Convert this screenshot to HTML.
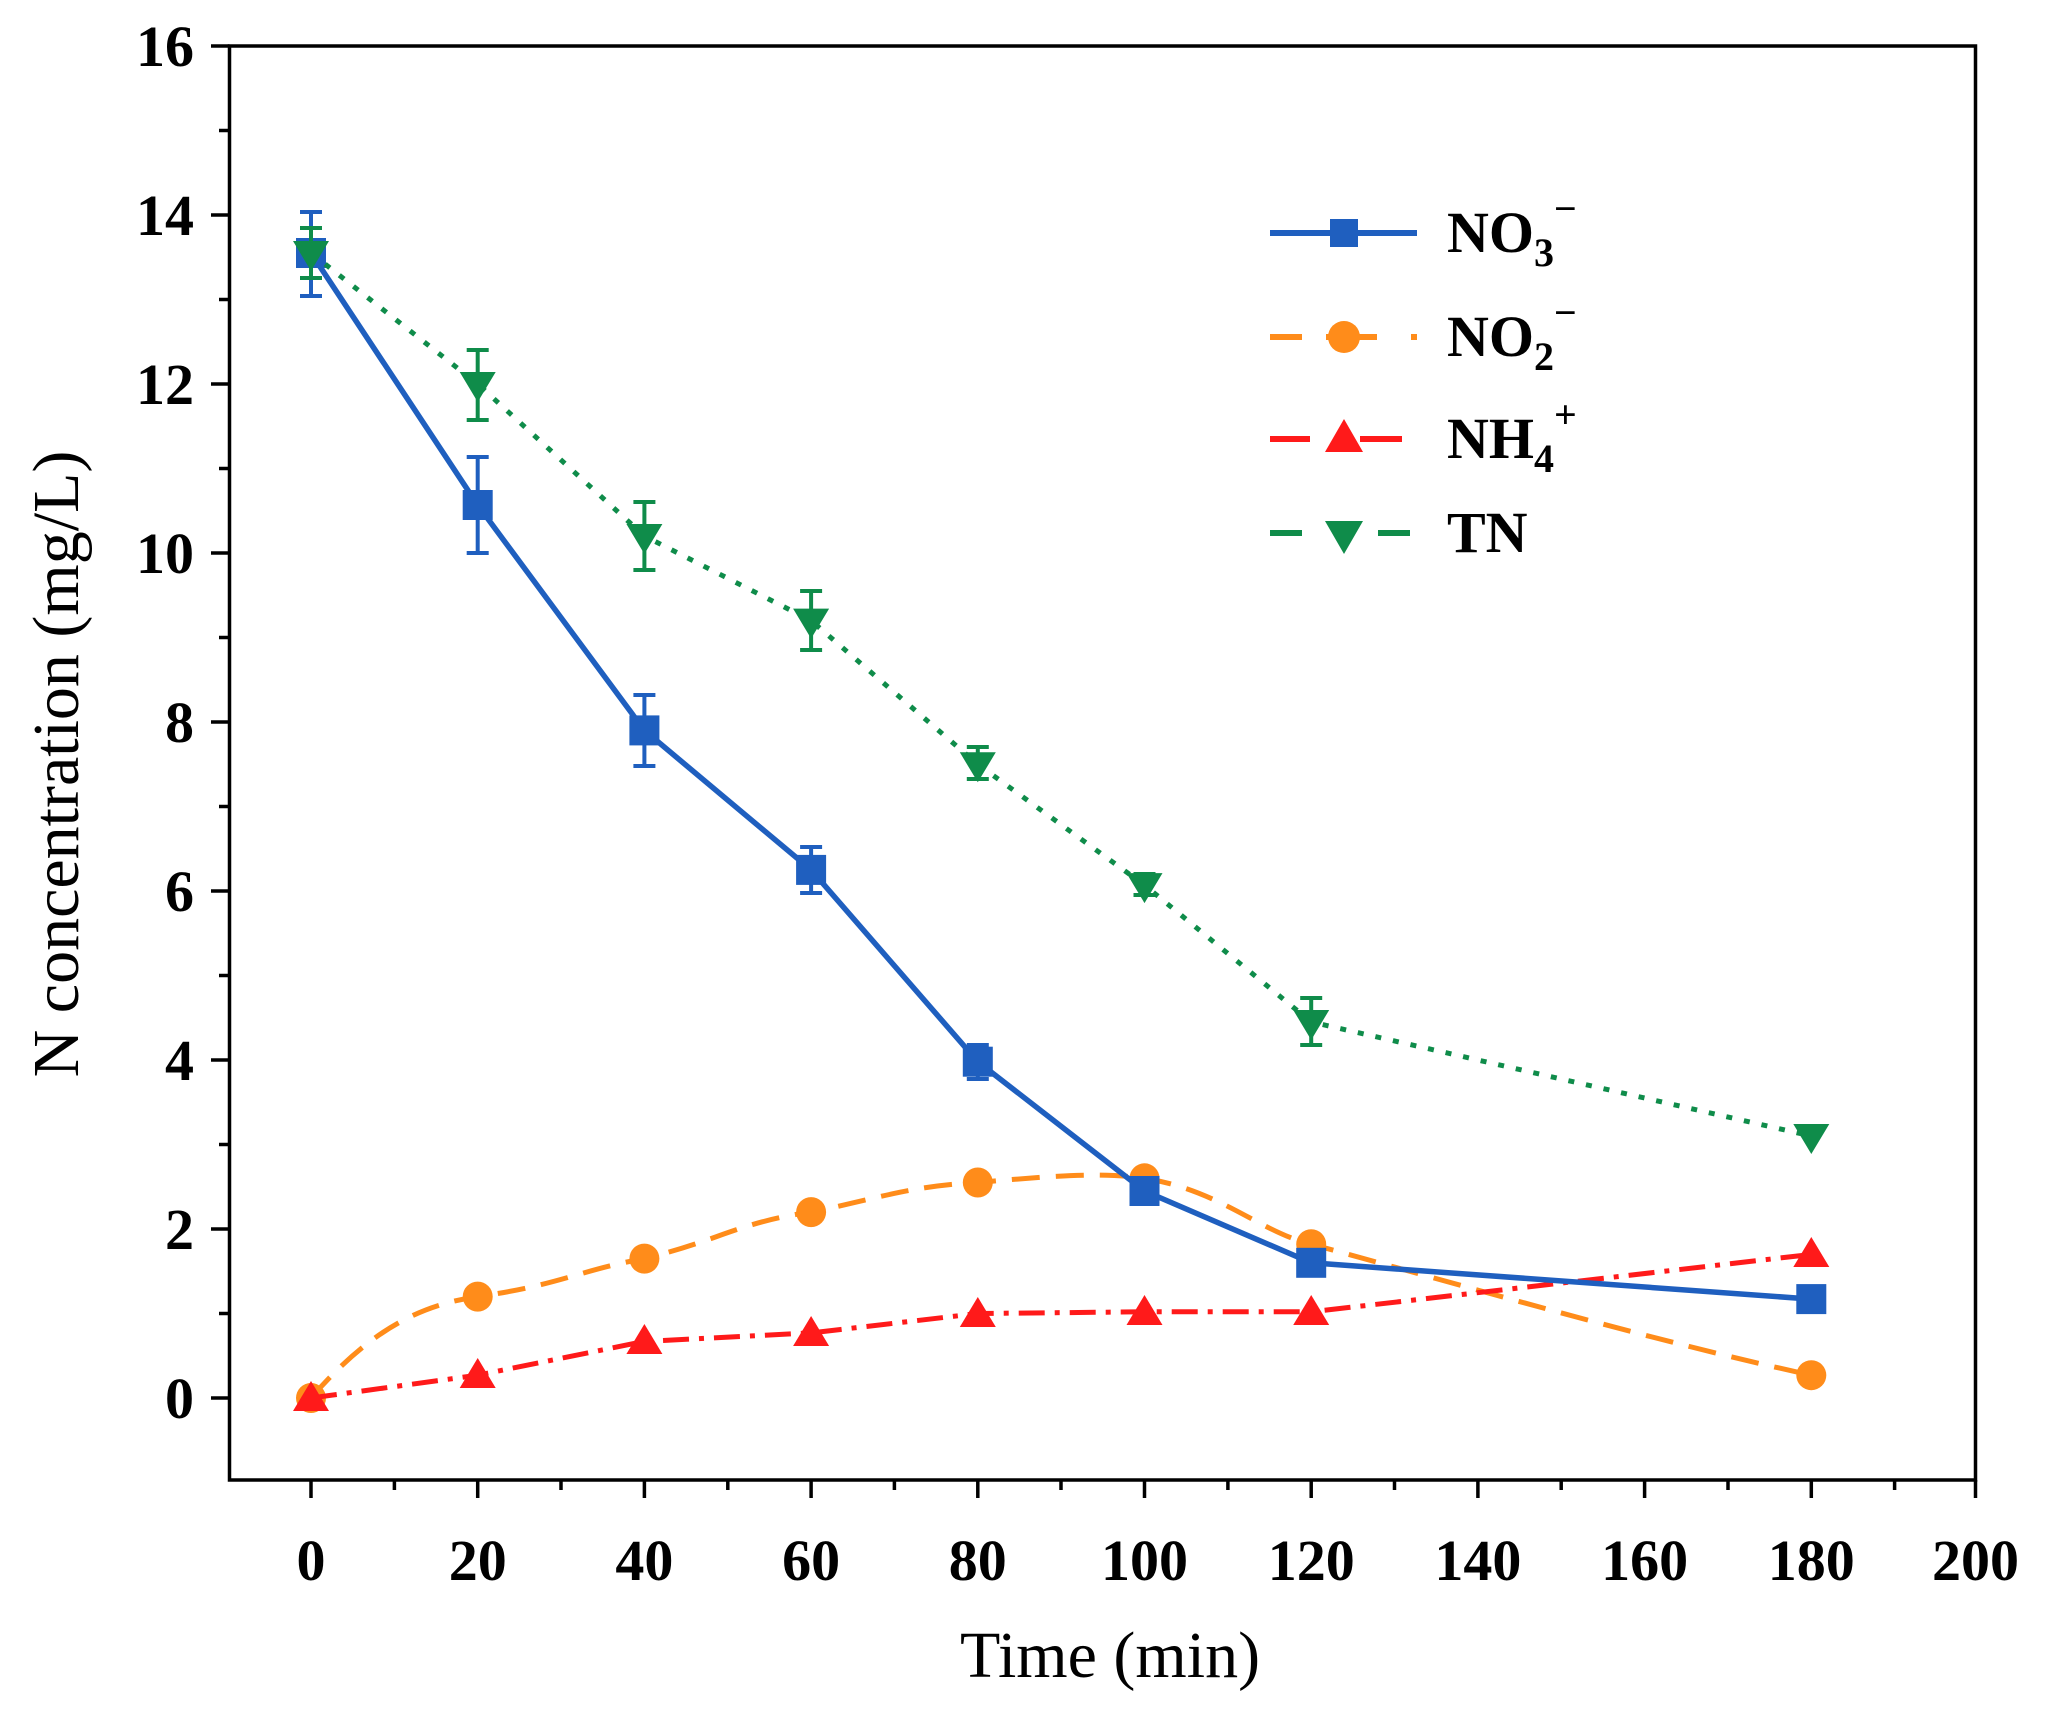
<!DOCTYPE html>
<html><head><meta charset="utf-8"><style>html,body{margin:0;padding:0;background:#fff}svg{display:block}text{font-family:"Liberation Serif",serif}</style></head>
<body>
<svg width="2046" height="1713" viewBox="0 0 2046 1713" xmlns="http://www.w3.org/2000/svg">
<rect width="2046" height="1713" fill="#fff"/>
<rect x="229.5" y="46" width="1746" height="1434" fill="none" stroke="#000" stroke-width="3.5"/>
<g stroke="#000" stroke-width="3.5">
<line x1="211" y1="46" x2="229.5" y2="46"/><line x1="211" y1="215" x2="229.5" y2="215"/><line x1="211" y1="384" x2="229.5" y2="384"/><line x1="211" y1="553" x2="229.5" y2="553"/><line x1="211" y1="722" x2="229.5" y2="722"/><line x1="211" y1="891" x2="229.5" y2="891"/><line x1="211" y1="1060" x2="229.5" y2="1060"/><line x1="211" y1="1229" x2="229.5" y2="1229"/><line x1="211" y1="1398" x2="229.5" y2="1398"/>
<line x1="219" y1="130.5" x2="229.5" y2="130.5"/><line x1="219" y1="299.5" x2="229.5" y2="299.5"/><line x1="219" y1="468.5" x2="229.5" y2="468.5"/><line x1="219" y1="637.5" x2="229.5" y2="637.5"/><line x1="219" y1="806.5" x2="229.5" y2="806.5"/><line x1="219" y1="975.5" x2="229.5" y2="975.5"/><line x1="219" y1="1144.5" x2="229.5" y2="1144.5"/><line x1="219" y1="1313.5" x2="229.5" y2="1313.5"/>
<line x1="311" y1="1480" x2="311" y2="1498"/><line x1="477.7" y1="1480" x2="477.7" y2="1498"/><line x1="644.4" y1="1480" x2="644.4" y2="1498"/><line x1="811.1" y1="1480" x2="811.1" y2="1498"/><line x1="977.8" y1="1480" x2="977.8" y2="1498"/><line x1="1144.5" y1="1480" x2="1144.5" y2="1498"/><line x1="1311.2" y1="1480" x2="1311.2" y2="1498"/><line x1="1477.9" y1="1480" x2="1477.9" y2="1498"/><line x1="1644.6" y1="1480" x2="1644.6" y2="1498"/><line x1="1811.3" y1="1480" x2="1811.3" y2="1498"/><line x1="1975.5" y1="1480" x2="1975.5" y2="1498"/>
<line x1="394.4" y1="1480" x2="394.4" y2="1490"/><line x1="561" y1="1480" x2="561" y2="1490"/><line x1="727.8" y1="1480" x2="727.8" y2="1490"/><line x1="894.4" y1="1480" x2="894.4" y2="1490"/><line x1="1061" y1="1480" x2="1061" y2="1490"/><line x1="1227.9" y1="1480" x2="1227.9" y2="1490"/><line x1="1394.5" y1="1480" x2="1394.5" y2="1490"/><line x1="1561.2" y1="1480" x2="1561.2" y2="1490"/><line x1="1728" y1="1480" x2="1728" y2="1490"/><line x1="1894.6" y1="1480" x2="1894.6" y2="1490"/>
</g>
<g font-size="58" font-weight="bold" text-anchor="end">
<text x="194" y="66">16</text><text x="194" y="235">14</text><text x="194" y="404">12</text><text x="194" y="573">10</text><text x="194" y="742">8</text><text x="194" y="911">6</text><text x="194" y="1080">4</text><text x="194" y="1249">2</text><text x="194" y="1418">0</text>
</g>
<g font-size="58" font-weight="bold" text-anchor="middle">
<text x="311" y="1580">0</text><text x="477.7" y="1580">20</text><text x="644.4" y="1580">40</text><text x="811.1" y="1580">60</text><text x="977.8" y="1580">80</text><text x="1144.5" y="1580">100</text><text x="1311.2" y="1580">120</text><text x="1477.9" y="1580">140</text><text x="1644.6" y="1580">160</text><text x="1811.3" y="1580">180</text><text x="1975.5" y="1580">200</text>
</g>
<text x="1110" y="1677" font-size="66" text-anchor="middle">Time (min)</text>
<text transform="translate(78,764) rotate(-90)" font-size="66" text-anchor="middle">N concentration (mg/L)</text>

<path d="M311,1398 C370,1330 420,1305 477.7,1296.6 C560,1285 580,1270 644.4,1258.6 C720,1240 740,1222 811.1,1212.1 C880,1198 910,1186 977.8,1182.5 C1050,1176 1100,1172 1144.5,1178.3 C1220,1190 1260,1232 1311.2,1244.2 C1480,1290 1650,1340 1811.3,1375.2" fill="none" stroke="#ff8c1a" stroke-width="5" stroke-dasharray="28,16"/>
<g fill="#ff8c1a"><circle cx="311" cy="1398" r="15"/><circle cx="477.7" cy="1296.6" r="15"/><circle cx="644.4" cy="1258.6" r="15"/><circle cx="811.1" cy="1212.1" r="15"/><circle cx="977.8" cy="1182.5" r="15"/><circle cx="1144.5" cy="1178.3" r="15"/><circle cx="1311.2" cy="1244.2" r="15"/><circle cx="1811.3" cy="1375.2" r="15"/></g>
<polyline points="311,1398 477.7,1375.2 644.4,1341.4 811.1,1332.9 977.8,1313.5 1144.5,1311.8 1311.2,1311.8 1811.3,1254.4" fill="none" stroke="#ff1a1a" stroke-width="5" stroke-dasharray="26,10,5,10"/>
<g fill="#ff1a1a">
<polygon points="311,1381 329,1411 293,1411"/><polygon points="477.7,1358 495.7,1388 459.7,1388"/><polygon points="644.4,1324 662.4,1354 626.4,1354"/><polygon points="811.1,1316 829.1,1346 793.1,1346"/><polygon points="977.8,1297 995.8,1327 959.8,1327"/><polygon points="1144.5,1295 1162.5,1325 1126.5,1325"/><polygon points="1311.2,1295 1329.2,1325 1293.2,1325"/><polygon points="1811.3,1237 1829.3,1267 1793.3,1267"/>
</g>
<polyline points="311,253 477.7,505 644.4,730.4 811.1,869.9 977.8,1061.7 1144.5,1191 1311.2,1262.8 1811.3,1299.1" fill="none" stroke="#1f5fbf" stroke-width="5.5"/>
<g stroke="#1f5fbf" stroke-width="4" fill="none">
<path d="M311,212V296M300,212H322M300,296H322"/>
<path d="M477.7,457V553M466.7,457H488.7M466.7,553H488.7"/>
<path d="M644.4,695V766M633.4,695H655.4M633.4,766H655.4"/>
<path d="M811.1,847V893M800.1,847H822.1M800.1,893H822.1"/>
<path d="M977.8,1045V1079M966.8,1045H988.8M966.8,1079H988.8"/>
</g>
<g fill="#1f5fbf">
<rect x="296" y="238" width="30" height="30"/><rect x="462.7" y="490" width="30" height="30"/><rect x="629.4" y="715.4" width="30" height="30"/><rect x="796.1" y="854.9" width="30" height="30"/><rect x="962.8" y="1046.7" width="30" height="30"/><rect x="1129.5" y="1176" width="30" height="30"/><rect x="1296.2" y="1247.8" width="30" height="30"/><rect x="1796.3" y="1284.1" width="30" height="30"/>
</g>
<polyline points="311,253 477.7,384 644.4,536 811.1,620.6 977.8,764.3 1144.5,885.1 1311.2,1022 1811.3,1136" fill="none" stroke="#0f8c4a" stroke-width="5" stroke-dasharray="6,12"/>
<g stroke="#0f8c4a" stroke-width="4" fill="none">
<path d="M311,228V278M300,228H322M300,278H322"/>
<path d="M477.7,350V420M466.7,350H488.7M466.7,420H488.7"/>
<path d="M644.4,502V570M633.4,502H655.4M633.4,570H655.4"/>
<path d="M811.1,591V650M800.1,591H822.1M800.1,650H822.1"/>
<path d="M977.8,747V779M966.8,747H988.8M966.8,779H988.8"/>
<path d="M1144.5,874V895M1133.5,874H1155.5M1133.5,895H1155.5"/>
<path d="M1311.2,998V1045M1300.2,998H1322.2M1300.2,1045H1322.2"/>
</g>
<g fill="#0f8c4a">
<polygon points="293,241 329,241 311,271"/><polygon points="459.7,372 495.7,372 477.7,402"/><polygon points="626.4,524 662.4,524 644.4,554"/><polygon points="793.1,608.6 829.1,608.6 811.1,638.6"/><polygon points="959.8,752.3 995.8,752.3 977.8,782.3"/><polygon points="1126.5,873.1 1162.5,873.1 1144.5,903.1"/><polygon points="1293.2,1010 1329.2,1010 1311.2,1040"/><polygon points="1793.3,1124 1829.3,1124 1811.3,1154"/>
</g>
<line x1="1270" y1="233" x2="1417" y2="233" stroke="#1f5fbf" stroke-width="6"/>
<rect x="1330" y="219" width="28" height="28" fill="#1f5fbf"/>
<path d="M1270,337H1302M1326,337H1377M1411,337H1417" stroke="#ff8c1a" stroke-width="6"/>
<circle cx="1344" cy="337" r="16" fill="#ff8c1a"/>
<path d="M1270,439H1310M1360,439H1402" stroke="#ff1a1a" stroke-width="6"/>
<polygon points="1344,419 1363,452 1325,452" fill="#ff1a1a"/>
<path d="M1270,533H1302M1378,533H1410" stroke="#0f8c4a" stroke-width="6"/>
<polygon points="1325,521 1363,521 1344,554" fill="#0f8c4a"/>
<g font-size="58" font-weight="bold">
<text x="1447" y="252">NO<tspan font-size="40" dy="14">3</tspan><tspan font-size="40" dy="-44">−</tspan></text>
<text x="1447" y="356">NO<tspan font-size="40" dy="14">2</tspan><tspan font-size="40" dy="-44">−</tspan></text>
<text x="1447" y="458">NH<tspan font-size="40" dy="14">4</tspan><tspan font-size="40" dy="-44">+</tspan></text>
<text x="1447" y="552">TN</text>
</g>
</svg>
</body></html>
